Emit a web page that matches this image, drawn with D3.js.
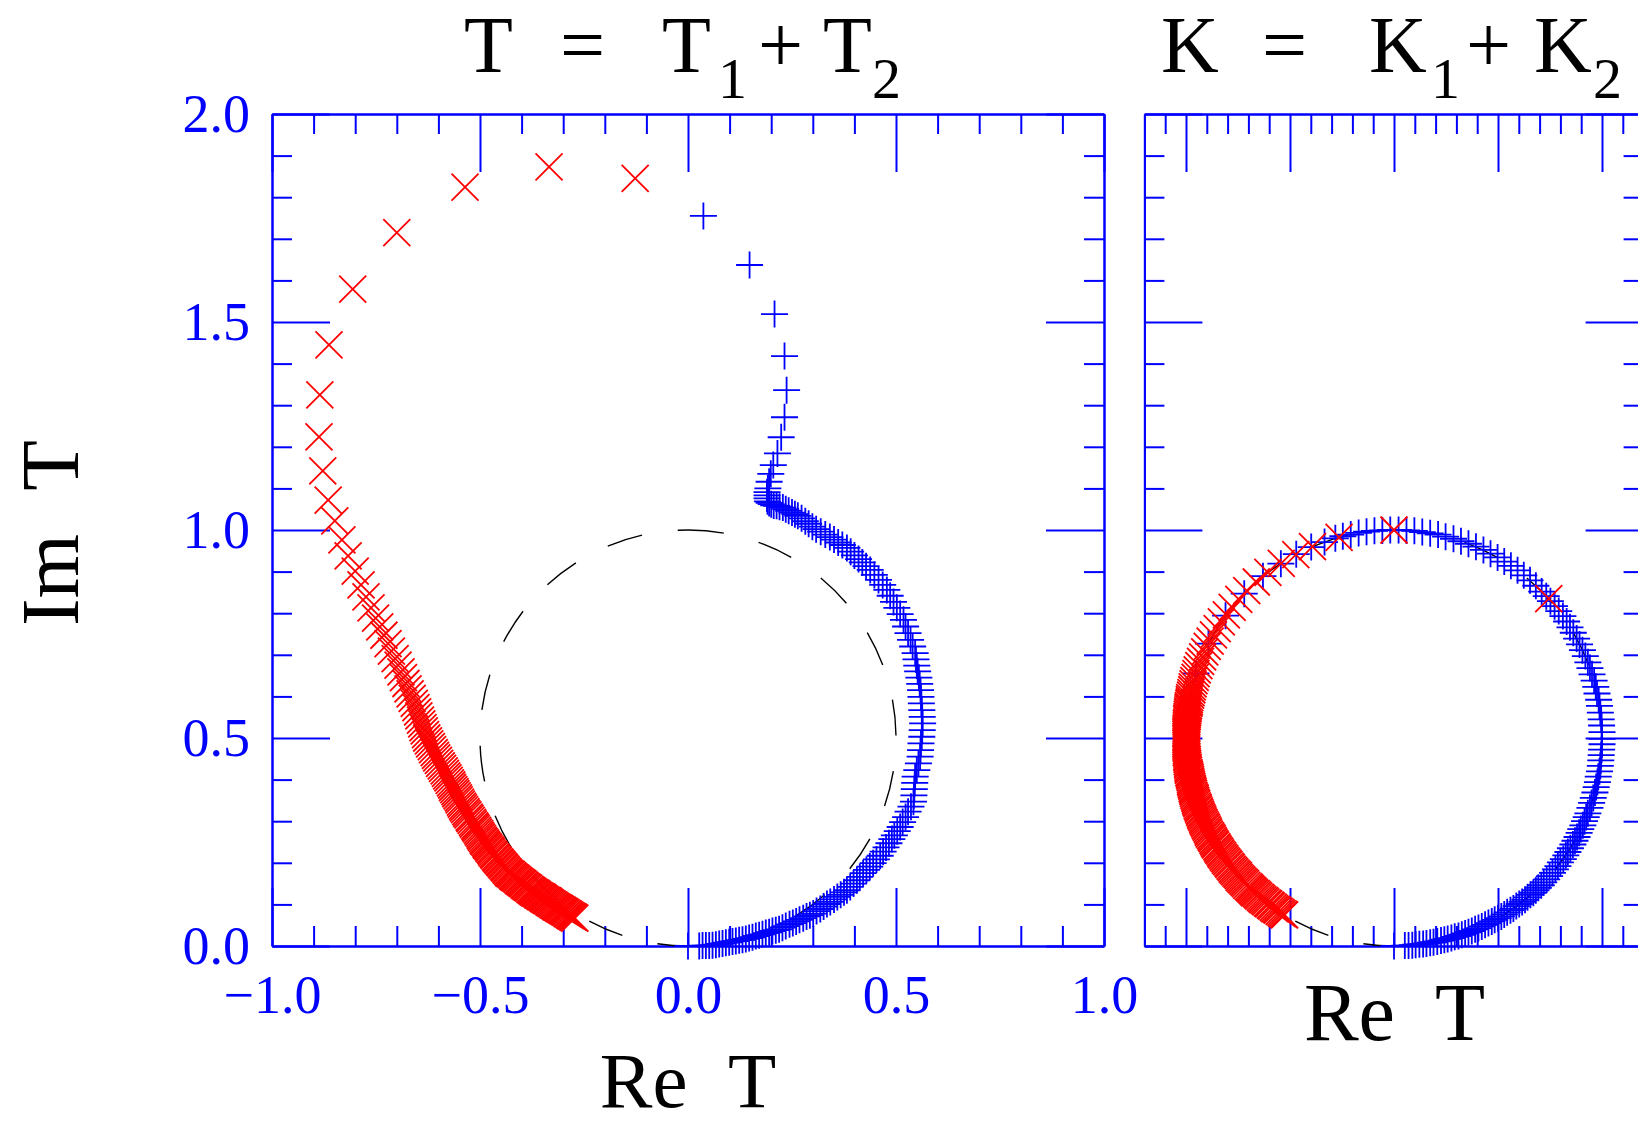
<!DOCTYPE html>
<html><head><meta charset="utf-8">
<script src="https://cdn.jsdelivr.net/npm/d3@7"></script>
<style>html,body{margin:0;padding:0;background:#fff;}svg{display:block}</style>
</head><body>
<svg id="c" width="1638" height="1125"></svg>
<script>
// ---- tick values / labels ----
const xTicksMajorT = [-1, -0.5, 0, 0.5, 1];
const xTickLabelsT = ["\u22121.0", "\u22120.5", "0.0", "0.5", "1.0"];
const xTicksMajorK = [-0.5, -0.25, 0, 0.25, 0.5];
const yTicksMajor = [0, 0.5, 1, 1.5, 2];
const yTickLabels = ["0.0", "0.5", "1.0", "1.5", "2.0"];

// ---- T = T1+T2 : blue (+) ----
const tBlue = [
[0,0],
[0.027,0.000],[0.035,0.001],[0.043,0.001],[0.051,0.001],[0.059,0.002],[0.067,0.003],[0.075,0.005],[0.083,0.006],[0.091,0.008],[0.099,0.009],[0.107,0.011],[0.115,0.012],[0.123,0.014],[0.131,0.015],[0.139,0.017],
[0.147,0.019],[0.155,0.021],[0.163,0.024],[0.171,0.026],[0.179,0.028],[0.187,0.031],[0.195,0.033],[0.203,0.036],[0.211,0.038],[0.219,0.040],
[0.227,0.044],[0.235,0.048],[0.244,0.052],[0.252,0.055],[0.260,0.059],[0.268,0.063],[0.277,0.067],[0.285,0.071],[0.293,0.074],[0.301,0.078],
[0.309,0.084],[0.318,0.089],[0.326,0.095],[0.334,0.101],[0.342,0.106],[0.351,0.112],[0.359,0.118],[0.367,0.123],[0.375,0.129],[0.382,0.134],
[0.390,0.142],[0.398,0.150],[0.406,0.158],[0.413,0.166],[0.421,0.175],[0.429,0.183],[0.437,0.191],[0.445,0.199],[0.453,0.208],[0.462,0.217],
[0.469,0.227],[0.476,0.237],[0.483,0.247],[0.490,0.257],[0.496,0.266],[0.503,0.276],[0.510,0.286],
[0.516,0.298],[0.523,0.310],[0.529,0.323],[0.536,0.335],[0.542,0.347],
[0.543,0.362],[0.544,0.377],[0.545,0.392],[0.546,0.407],
[0.550,0.423],[0.554,0.439],[0.558,0.455],
[0.559,0.471],[0.560,0.487],[0.562,0.503],[0.563,0.519],[0.564,0.535],
[0.563,0.551],[0.562,0.567],[0.561,0.583],[0.560,0.599],[0.559,0.615],
[0.557,0.630],[0.555,0.645],[0.552,0.660],[0.550,0.674],[0.548,0.689],[0.546,0.704],
[0.540,0.720],[0.535,0.736],[0.529,0.752],[0.523,0.768],[0.518,0.784],
[0.510,0.798],[0.502,0.813],[0.494,0.827],[0.486,0.842],[0.478,0.856],
[0.468,0.868],[0.458,0.880],[0.448,0.892],[0.438,0.904],
[0.428,0.913],[0.419,0.922],[0.410,0.930],[0.400,0.939],[0.391,0.948],[0.382,0.957],
[0.371,0.964],[0.361,0.970],[0.351,0.977],[0.341,0.983],
[0.330,0.989],[0.319,0.996],[0.308,1.002],
[0.299,1.008],[0.290,1.015],[0.282,1.021],[0.273,1.028],[0.264,1.034],
[0.257,1.038],[0.250,1.042],[0.242,1.046],[0.235,1.050],[0.228,1.054],
[0.220,1.056],[0.213,1.058],[0.206,1.059],[0.200,1.062],[0.195,1.065],[0.191,1.069],[0.190,1.076],[0.190,1.083],[0.190,1.091],[0.192,1.100],
[0.195,1.116],[0.199,1.135],[0.205,1.156],[0.215,1.184],[0.224,1.223],[0.232,1.271],[0.237,1.336],[0.232,1.418],[0.208,1.519],[0.148,1.637],[0.037,1.755]
];

// ---- T = T1+T2 : red (x) ----
const tRed = [
[-0.127,1.845],[-0.334,1.873],[-0.536,1.824],[-0.700,1.715],[-0.806,1.579],[-0.863,1.445],[-0.885,1.325],[-0.887,1.224],[-0.878,1.142],
[-0.865,1.072],[-0.849,1.022],[-0.832,0.976],[-0.817,0.938],[-0.800,0.901],[-0.786,0.868],
[-0.774,0.839],[-0.762,0.813],[-0.751,0.788],[-0.741,0.767],[-0.731,0.747],[-0.721,0.727],[-0.713,0.709],[-0.704,0.691],[-0.697,0.675],[-0.690,0.659],[-0.684,0.645],[-0.678,0.631],[-0.673,0.618],[-0.668,0.606],[-0.663,0.595],[-0.658,0.583],[-0.654,0.573],[-0.650,0.563],[-0.647,0.553],[-0.643,0.543],[-0.640,0.534],[-0.637,0.525],[-0.634,0.517],[-0.631,0.508],[-0.628,0.500],
[-0.624,0.493],[-0.621,0.486],[-0.617,0.479],[-0.614,0.472],[-0.610,0.465],[-0.607,0.458],
[-0.604,0.452],[-0.600,0.446],[-0.597,0.439],[-0.593,0.433],[-0.590,0.427],[-0.586,0.421],
[-0.583,0.415],[-0.580,0.409],[-0.577,0.404],[-0.574,0.398],[-0.571,0.392],[-0.568,0.387],[-0.566,0.381],
[-0.563,0.376],[-0.560,0.371],[-0.558,0.366],[-0.555,0.361],[-0.552,0.356],[-0.550,0.351],[-0.547,0.346],[-0.545,0.341],[-0.542,0.336],
[-0.540,0.332],[-0.537,0.328],[-0.534,0.323],[-0.532,0.319],[-0.529,0.315],[-0.526,0.310],[-0.524,0.306],[-0.521,0.302],[-0.518,0.297],
[-0.516,0.293],[-0.513,0.289],[-0.511,0.286],[-0.509,0.282],[-0.506,0.278],[-0.504,0.274],[-0.501,0.270],[-0.499,0.266],[-0.497,0.262],[-0.494,0.258],[-0.492,0.254],
[-0.490,0.251],[-0.487,0.248],[-0.485,0.244],[-0.483,0.241],[-0.480,0.238],[-0.478,0.234],[-0.475,0.231],[-0.473,0.228],[-0.471,0.224],[-0.468,0.221],[-0.466,0.218],[-0.463,0.214],
[-0.461,0.211],[-0.458,0.208],[-0.456,0.205],[-0.453,0.202],[-0.451,0.200],[-0.448,0.197],[-0.446,0.194],[-0.443,0.191],[-0.441,0.188],[-0.438,0.185],[-0.436,0.182],[-0.433,0.179],[-0.431,0.176],
[-0.428,0.174],[-0.425,0.172],[-0.422,0.169],[-0.420,0.167],[-0.417,0.165],[-0.414,0.163],[-0.411,0.161],[-0.408,0.158],[-0.406,0.156],[-0.403,0.154],[-0.400,0.152],[-0.397,0.150],[-0.394,0.147],[-0.392,0.145],[-0.389,0.143],[-0.386,0.141],[-0.383,0.139],[-0.380,0.136],
[-0.377,0.134],[-0.374,0.132],[-0.372,0.130],[-0.369,0.128],[-0.366,0.127],[-0.363,0.125],[-0.361,0.123],[-0.358,0.121],[-0.355,0.119],[-0.352,0.118],[-0.349,0.116],[-0.347,0.114],[-0.344,0.112],[-0.341,0.110],[-0.338,0.109],[-0.335,0.107],[-0.333,0.105],[-0.330,0.103],[-0.327,0.101],
[-0.324,0.099],[-0.322,0.098],[-0.319,0.096],[-0.317,0.094],[-0.314,0.093],[-0.311,0.091],[-0.309,0.090],[-0.306,0.088],[-0.303,0.086],[-0.301,0.085],[-0.298,0.083],[-0.296,0.082],[-0.293,0.080],[-0.290,0.078],[-0.288,0.077],[-0.285,0.075],[-0.283,0.073],[-0.280,0.072],[-0.277,0.070],[-0.275,0.069],[-0.272,0.067]
];

// ---- K = K1+K2 : blue (+) ----
const kBlue = [
[0,0],
[0.026,0.001],[0.035,0.001],[0.044,0.002],[0.052,0.003],[0.061,0.004],[0.070,0.005],[0.078,0.006],[0.087,0.008],[0.095,0.009],[0.104,0.011],[0.113,0.013],[0.121,0.015],[0.129,0.017],[0.138,0.019],[0.146,0.022],[0.155,0.024],[0.163,0.027],[0.171,0.030],[0.179,0.033],[0.187,0.036],[0.195,0.040],[0.203,0.043],[0.211,0.047],[0.219,0.051],[0.227,0.055],[0.235,0.059],[0.242,0.063],[0.250,0.067],[0.258,0.071],[0.265,0.076],[0.272,0.081],[0.280,0.086],[0.287,0.090],[0.294,0.096],[0.301,0.101],[0.308,0.106],[0.315,0.111],[0.321,0.117],[0.328,0.123],[0.335,0.128],[0.341,0.134],[0.347,0.140],[0.354,0.146],
[0.360,0.153],[0.367,0.160],[0.374,0.168],[0.381,0.176],[0.388,0.184],[0.394,0.192],[0.400,0.201],[0.407,0.209],[0.413,0.218],[0.418,0.226],[0.424,0.235],[0.430,0.244],[0.435,0.253],[0.440,0.262],[0.445,0.272],[0.449,0.281],[0.454,0.290],[0.458,0.300],[0.462,0.310],[0.466,0.319],
[0.471,0.332],[0.475,0.344],[0.479,0.356],[0.483,0.369],[0.486,0.382],[0.489,0.394],[0.491,0.407],[0.494,0.420],[0.496,0.433],[0.497,0.446],[0.498,0.459],[0.499,0.472],[0.500,0.485],[0.500,0.498],
[0.500,0.514],[0.499,0.530],[0.498,0.545],[0.496,0.561],[0.494,0.577],[0.492,0.592],[0.488,0.607],[0.485,0.623],[0.481,0.638],[0.476,0.653],[0.471,0.668],[0.466,0.682],[0.460,0.697],[0.453,0.711],[0.446,0.725],[0.439,0.739],[0.431,0.753],[0.423,0.766],[0.415,0.780],[0.406,0.793],[0.396,0.805],[0.386,0.817],[0.376,0.829],[0.366,0.841],[0.355,0.852],
[0.341,0.866],[0.327,0.879],[0.312,0.891],[0.297,0.903],[0.281,0.914],[0.265,0.924],[0.249,0.934],[0.232,0.943],[0.215,0.952],[0.197,0.960],[0.179,0.967],[0.161,0.973],[0.143,0.979],[0.124,0.984],[0.106,0.989],[0.087,0.992],[0.068,0.995],[0.049,0.998],[0.030,0.999],[0.011,1.000],[-0.009,1.000],[-0.028,0.999],[-0.047,0.998],[-0.066,0.996],[-0.085,0.993],[-0.104,0.989],[-0.123,0.985],[-0.141,0.980],
[-0.167,0.971],[-0.199,0.959],[-0.235,0.942],[-0.272,0.919],[-0.315,0.889],[-0.360,0.847],[-0.405,0.794],[-0.446,0.727],[-0.476,0.655]
];

// ---- K = K1+K2 : red (x) ----
const kRed = [
[0.372,0.835],[0.000,1.000],[-0.132,0.982],[-0.196,0.960],[-0.236,0.941],[-0.271,0.920],[-0.303,0.898],[-0.331,0.875],[-0.354,0.854],[-0.373,0.833],[-0.389,0.814],[-0.403,0.796],[-0.415,0.779],[-0.425,0.763],[-0.434,0.748],[-0.442,0.733],[-0.449,0.720],[-0.455,0.707],[-0.460,0.695],[-0.465,0.684],[-0.469,0.674],[-0.473,0.664],[-0.476,0.655],[-0.478,0.646],[-0.481,0.638],[-0.483,0.630],[-0.485,0.623],[-0.486,0.616],[-0.488,0.609],[-0.489,0.603],[-0.491,0.597],[-0.492,0.592],[-0.492,0.587],
[-0.493,0.583],[-0.494,0.578],[-0.495,0.574],[-0.495,0.570],[-0.496,0.565],[-0.496,0.561],[-0.497,0.557],[-0.497,0.552],[-0.498,0.548],[-0.498,0.544],[-0.498,0.539],[-0.499,0.535],[-0.499,0.531],[-0.499,0.526],[-0.500,0.522],[-0.500,0.517],[-0.500,0.513],[-0.500,0.509],[-0.500,0.504],[-0.500,0.500],
[-0.500,0.496],[-0.500,0.491],[-0.500,0.487],[-0.500,0.483],[-0.500,0.478],[-0.499,0.474],[-0.499,0.469],[-0.499,0.465],[-0.498,0.461],[-0.498,0.456],[-0.498,0.452],[-0.497,0.448],[-0.497,0.443],[-0.496,0.439],[-0.496,0.435],[-0.495,0.430],[-0.495,0.426],[-0.494,0.422],[-0.493,0.417],[-0.492,0.413],
[-0.491,0.409],[-0.490,0.405],[-0.489,0.400],[-0.489,0.396],[-0.488,0.392],[-0.487,0.388],[-0.486,0.384],[-0.485,0.379],[-0.484,0.375],[-0.483,0.371],[-0.482,0.367],[-0.481,0.362],[-0.479,0.358],[-0.478,0.354],[-0.477,0.350],[-0.476,0.346],[-0.474,0.342],[-0.473,0.337],[-0.471,0.333],[-0.470,0.329],
[-0.468,0.325],[-0.467,0.321],[-0.465,0.317],[-0.464,0.313],[-0.462,0.309],[-0.460,0.305],[-0.459,0.301],[-0.457,0.297],[-0.455,0.293],[-0.453,0.289],[-0.451,0.285],[-0.449,0.281],[-0.447,0.277],[-0.446,0.273],[-0.444,0.269],[-0.441,0.265],[-0.439,0.261],[-0.437,0.258],[-0.435,0.254],[-0.433,0.250],
[-0.431,0.246],[-0.429,0.243],[-0.426,0.239],[-0.424,0.235],[-0.422,0.231],[-0.419,0.228],[-0.417,0.224],[-0.415,0.220],[-0.412,0.217],[-0.410,0.213],[-0.407,0.210],[-0.405,0.206],[-0.402,0.203],[-0.399,0.199],[-0.397,0.196],[-0.394,0.192],[-0.391,0.189],[-0.389,0.185],[-0.386,0.182],[-0.383,0.179],
[-0.380,0.175],[-0.377,0.172],[-0.374,0.169],[-0.372,0.165],[-0.369,0.162],[-0.366,0.159],[-0.363,0.156],[-0.360,0.153],[-0.357,0.150],[-0.354,0.146],[-0.350,0.143],[-0.347,0.140],[-0.344,0.137],[-0.341,0.134],[-0.338,0.131],[-0.335,0.128],[-0.331,0.126],[-0.328,0.123],[-0.325,0.120],[-0.321,0.117],
[-0.318,0.114],[-0.315,0.111],[-0.311,0.109],[-0.308,0.106],[-0.304,0.103],[-0.301,0.101],[-0.297,0.098],[-0.294,0.096],[-0.290,0.093],[-0.287,0.090],[-0.283,0.088],[-0.280,0.086],[-0.276,0.083],[-0.272,0.081],[-0.269,0.078],[-0.265,0.076],[-0.263,0.075]
];

// unitarity circle: centre and radius (data units)
const circleCentre = [0, 0.5];
const circleRadius = 0.5;

// ---- drawing ----
const BLUE = "#0000ff", RED = "#ff0000";
const FONT = "'Liberation Serif','DejaVu Serif',serif";
const svg = d3.select("#c");

const yS = d3.scaleLinear().domain([0, 2]).range([946, 114]);
const xT = d3.scaleLinear().domain([-1, 1]).range([272, 1104]);
const xK = d3.scaleLinear().domain([-0.6, 0.6]).range([1144.4, 1643.6]);

const isMult = (v, m) => Math.abs(v / m - Math.round(v / m)) < 1e-6;
const yMinor = d3.range(0.1, 1.95, 0.1).map(v => +v.toFixed(2)).filter(v => !isMult(v, 0.5));
const xMinorT = d3.range(-0.9, 0.95, 0.1).map(v => +v.toFixed(2)).filter(v => !isMult(v, 0.5));
const xMinorK = d3.range(-0.55, 0.58, 0.05).map(v => +v.toFixed(2)).filter(v => !isMult(v, 0.25));

function frame(xs, xMajor, xMinor, xLabels, yLabels) {
  const [x0, x1] = xs.range();
  const [y0, y1] = yS.range();
  const sides = [
    [() => d3.axisBottom(xs), `translate(0,${y0})`, xMajor, xMinor, xLabels, 28.7],
    [() => d3.axisTop(xs), `translate(0,${y1})`, xMajor, xMinor, null, 0],
    [() => d3.axisLeft(yS), `translate(${x0},0)`, yTicksMajor, yMinor, yLabels, 22],
    [() => d3.axisRight(yS), `translate(${x1},0)`, yTicksMajor, yMinor, null, 0]
  ];
  sides.forEach(([mk, tr, major, minor, labels, pad]) => {
    svg.append("g").attr("transform", tr)
      .call(mk().tickValues(minor).tickSize(-20).tickSizeOuter(0).tickFormat(""))
      .attr("color", BLUE).attr("stroke-width", 2);
    svg.append("g").attr("transform", tr)
      .call(mk().tickValues(major).tickSize(-58).tickSizeOuter(0)
        .tickPadding(pad).tickFormat((d, i) => labels ? labels[i] : ""))
      .attr("color", BLUE).attr("stroke-width", 2)
      .attr("font-size", 54).attr("font-family", FONT);
  });
}

frame(xT, xTicksMajorT, xMinorT, xTickLabelsT, yTickLabels);
frame(xK, xTicksMajorK, xMinorK, null, null);

function unitCircle(xs) {
  const p = d3.path();
  const cx = xs(circleCentre[0]), cy = yS(circleCentre[1]);
  const r = yS(0) - yS(circleRadius);
  p.moveTo(cx, cy - r);
  p.arc(cx, cy, r, -Math.PI / 2, 3 * Math.PI / 2, false);
  svg.append("path").attr("d", p.toString())
    .attr("fill", "none").attr("stroke", "#000").attr("stroke-width", 1.4)
    .attr("stroke-dasharray", "36 36");
}
unitCircle(xT);
unitCircle(xK);

const H = 13.5;
const plusPath = (x, y) => `M${x - H},${y}H${x + H}M${x},${y - H}V${y + H}`;
const timesPath = (x, y) => `M${x - H},${y - H}L${x + H},${y + H}M${x - H},${y + H}L${x + H},${y - H}`;

function marks(data, xs, fn, color) {
  svg.append("g").attr("fill", "none").attr("stroke", color).attr("stroke-width", 1.8)
    .selectAll("path").data(data).join("path")
    .attr("d", d => fn(xs(d[0]), yS(d[1])));
}
marks(tBlue, xT, plusPath, BLUE);
marks(tRed, xT, timesPath, RED);
marks(kBlue, xK, plusPath, BLUE);
marks(kRed, xK, timesPath, RED);

// ---- titles and axis captions ----
function txt(x, y, s, size, anchor) {
  return svg.append("text").attr("x", x).attr("y", y).text(s)
    .attr("font-family", FONT).attr("font-size", size).attr("fill", "#000")
    .attr("text-anchor", anchor || "start");
}
// T = T1+T2
txt(464, 72, "T", 80); txt(560, 72, "=", 80); txt(662, 72, "T", 80);
txt(718, 98, "1", 58); txt(758, 72, "+", 80); txt(823, 72, "T", 80); txt(872, 98, "2", 58);
// K = K1+K2
txt(1161, 72, "K", 80); txt(1262, 72, "=", 80); txt(1369, 72, "K", 80);
txt(1431, 98, "1", 58); txt(1466, 72, "+", 80); txt(1534, 72, "K", 80); txt(1593, 98, "2", 58);

txt(688, 1107, "Re T", 79, "middle").attr("word-spacing", 22);
txt(1394.5, 1040, "Re T", 82, "middle").attr("word-spacing", 21);
svg.append("text").attr("transform", "translate(78,533) rotate(-90)")
  .attr("text-anchor", "middle").attr("font-family", FONT).attr("font-size", 83)
  .attr("word-spacing", 24).attr("fill", "#000").text("Im T");
</script>
</body></html>
